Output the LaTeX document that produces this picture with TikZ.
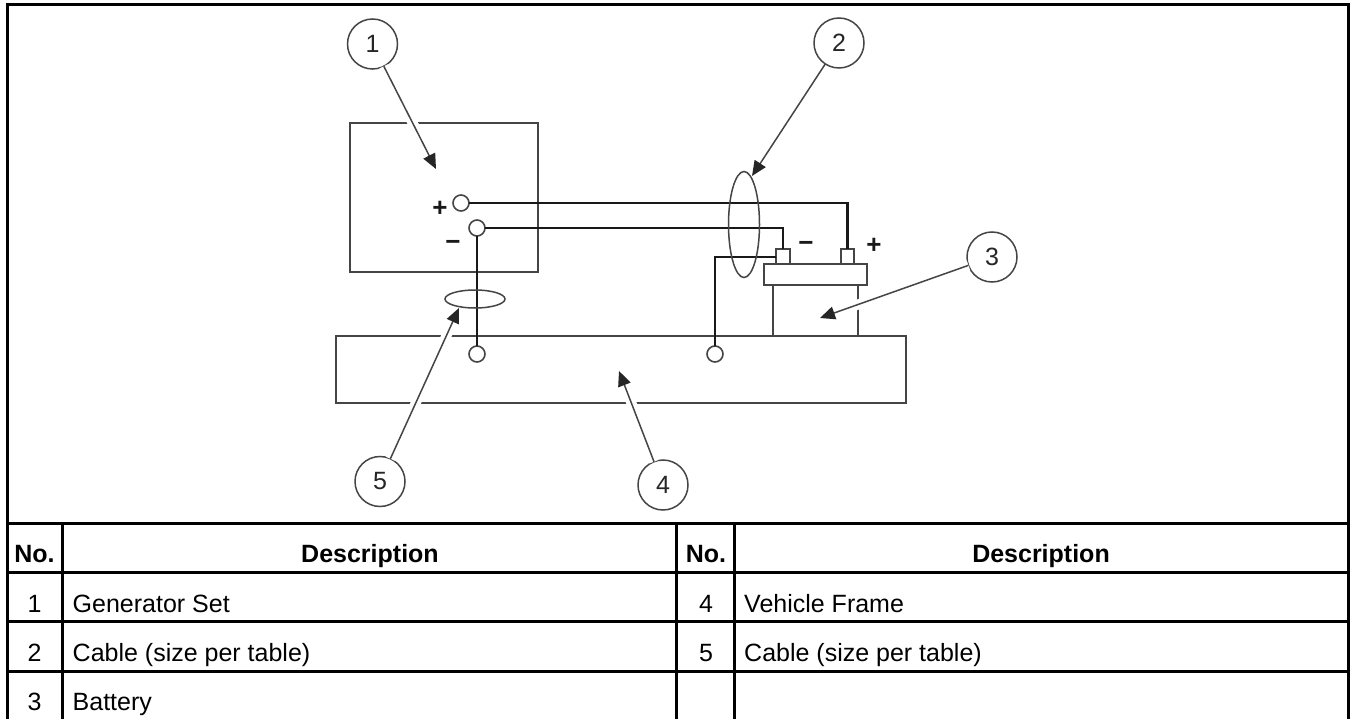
\documentclass[tikz,border=0pt]{standalone}
\usepackage{fontspec}
\setmainfont{Liberation Sans}
\usetikzlibrary{arrows.meta,shapes.geometric}
\definecolor{linegray}{HTML}{454545}
\tikzset{
  x=1pt,y=-1pt,
  rule/.style={line width=3pt,black},
  box/.style={draw=linegray,line width=1.6pt,rectangle,inner sep=0pt,outer sep=0pt},
  term/.style={draw=linegray,line width=1.6pt,circle,fill=white,inner sep=0pt,outer sep=0pt,minimum size=16pt},
  wire/.style={line width=2.6pt,black!90},
  loopring/.style={draw=linegray,line width=1.5pt,ellipse,inner sep=0pt,outer sep=0pt},
  callout/.style={draw=linegray,line width=1.5pt,circle,inner sep=0pt,outer sep=0pt,minimum size=50pt,font=\fontsize{25}{25}\selectfont,text=black!85},
  leader/.style={draw=linegray,line width=1.5pt,-{Triangle[length=15pt,width=13pt,color=black!85]}},
  halo/.style={draw=white,line width=10pt,shorten >=22pt},
  sign/.style={font=\bfseries\fontsize{26}{26}\selectfont,inner sep=0pt,text=black!90},
  cell/.style={font=\fontsize{25}{25}\selectfont,inner sep=0pt,anchor=base west},
  num/.style={font=\fontsize{25}{25}\selectfont,inner sep=0pt,anchor=base},
  head/.style={font=\bfseries\fontsize{25}{25}\selectfont,inner sep=0pt,anchor=base},
}
\begin{document}
\begin{tikzpicture}
\useasboundingbox[fill=white] (0,0) rectangle (1351,719);

% table rules
\draw[rule] (7.5,719) -- (7.5,4.5) -- (1348.5,4.5) -- (1348.5,719);
\foreach \yy in {523.5,572.5,621.5,671.5} \draw[rule] (6,\yy) -- (1350,\yy);
\foreach \xx in {62.5,676.5,734.5} \draw[rule] (\xx,523.5) -- (\xx,719);

% table text
\node[head] (h1) at (34.5,562) {No.};
\node[head] (h2) at (370,562) {Description};
\node[head] (h3) at (706,562) {No.};
\node[head] (h4) at (1041,562) {Description};
\node[num] (n1) at (34.5,612.5) {1};
\node[cell] (d1) at (72.5,612.5) {Generator Set};
\node[num] (n2) at (34.5,661.5) {2};
\node[cell] (d2) at (72.5,661.5) {Cable (size per table)};
\node[num] (n3) at (34.5,710.5) {3};
\node[cell] (d3) at (72.5,710.5) {Battery};
\node[num] (n4) at (706,612.5) {4};
\node[cell] (d4) at (744,612.5) {Vehicle Frame};
\node[num] (n5) at (706,661.5) {5};
\node[cell] (d5) at (744,661.5) {Cable (size per table)};

% main boxes
\node[box,minimum width=188pt,minimum height=149pt] (gen) at (444,197.5) {};
\node[box,minimum width=570pt,minimum height=67pt] (frame) at (621,369.5) {};

% battery
\coordinate (bodyLT) at (773,285); \coordinate (bodyLB) at (773,336);
\coordinate (bodyRT) at (858,285); \coordinate (bodyRB) at (858,336);
\draw[draw=linegray,line width=1.6pt] (bodyLT) -- (bodyLB) (bodyRT) -- (bodyRB);
\node[box,minimum width=103pt,minimum height=21pt] (batt) at (815.5,274.5) {};
\node[box,minimum width=14pt,minimum height=15pt] (bneg) at (783,256.5) {};
\node[box,minimum width=13pt,minimum height=15pt] (bpos) at (847.5,256.5) {};

% callouts and leaders
\node[callout] (c1) at (372.5,44) {1};
\node[callout] (c2) at (839,43) {2};
\node[callout] (c3) at (992,257) {3};
\node[callout] (c4) at (663,485) {4};
\node[callout] (c5) at (380,481.5) {5};
\coordinate (t1) at (436,169);
\coordinate (t2) at (752,176);
\coordinate (t3) at (820,318);
\coordinate (t4) at (619,371);
\coordinate (t5) at (459,308);
\draw[halo] (c1) -- (t1);
\draw[halo] (c3) -- (t3);
\draw[halo] (c4) -- (t4);
\draw[halo] (c5) -- (t5);
\draw[leader] (c1) -- (t1);
\draw[leader] (c2) -- (t2);
\draw[leader] (c3) -- (t3);
\draw[leader] (c4) -- (t4);
\draw[leader] (c5) -- (t5);

% terminals
\node[term] (tp) at (461,203) {};
\node[term] (tn) at (477,228) {};
\node[term] (gn) at (477,354) {};
\node[term] (gb) at (715,354) {};

% cables
\coordinate (cp) at (bpos.north |- tp);
\coordinate (cn) at (bneg.north |- tn);
\coordinate (cb) at (gb.north |- 0,257);
\coordinate (bw) at (bneg.west |- 0,257);
\draw[wire] (tp.east) -- (cp) -- (bpos.north);
\draw[wire] (tn.east) -- (cn) -- (bneg.north);
\draw[wire] (tn.south) -- (gn.north);
\draw[wire] (gb.north) -- (cb) -- (bw);

% cable loops
\node[loopring,minimum width=31pt,minimum height=106pt] (ring2) at (744,224.5) {};
\node[loopring,minimum width=60pt,minimum height=18pt] (ring5) at (475,299) {};

% polarity marks
\node[sign] (sp) at (440,209) {+};
\node[sign] (sm) at (453,245) {−};
\node[sign] (bm) at (806,246) {−};
\node[sign] (bp) at (874,246) {+};
\end{tikzpicture}
\end{document}
